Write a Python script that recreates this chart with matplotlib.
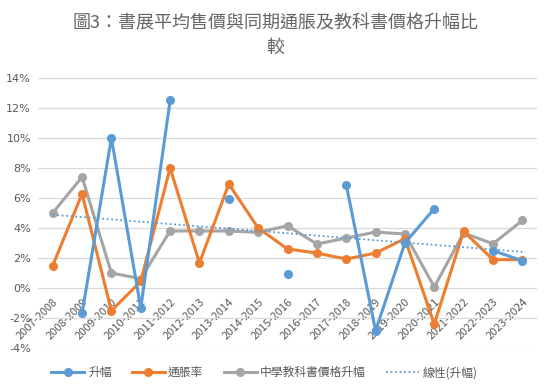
import numpy as np
import matplotlib
matplotlib.use("Agg")
import matplotlib.pyplot as plt
from matplotlib.ticker import FuncFormatter

plt.rcParams['font.family'] = ['Noto Sans CJK TC', 'DejaVu Sans']

# -------------------------------
# Data (percent)
# -------------------------------
years = ["2007-2008", "2008-2009", "2009-2010", "2010-2011", "2011-2012",
         "2012-2013", "2013-2014", "2014-2015", "2015-2016", "2016-2017",
         "2017-2018", "2018-2019", "2019-2020", "2020-2021", "2021-2022",
         "2022-2023", "2023-2024"]

rise = [np.nan, -1.7, 10.0, -1.33, 12.5,
        np.nan, 5.93, np.nan, 0.95, np.nan,
        6.89, -2.85, 3.0, 5.29, np.nan,
        2.49, 1.82]

inflation = [1.49, 6.27, -1.51, 0.44, 8.0,
             1.67, 6.93, 4.0, 2.6, 2.33,
             1.93, 2.33, 3.29, -2.4, 3.78,
             1.89, 1.89]

textbook = [5.0, 7.4, 1.0, 0.62, 3.8,
            3.8, 3.8, 3.71, 4.15, 2.93,
            3.33, 3.73, 3.6, 0.07, 3.67,
            2.95, 4.5]

BLUE = "#5B9BD5"
ORANGE = "#ED7D31"
GRAY = "#A5A5A5"
TEXT = "#595959"

x = np.arange(len(years))
rise_arr = np.array(rise)
ok = ~np.isnan(rise_arr)
coef = np.polyfit(x[ok], rise_arr[ok], 1)
trend = np.polyval(coef, x)

# -------------------------------
# Figure
# -------------------------------
fig = plt.figure(figsize=(5.51, 3.89), dpi=100)
ax = fig.add_axes([0.069, 0.1054, 0.9056, 0.6941])

lw = 2.2
ms = 5.5
ax.plot(x, rise, color=BLUE, lw=lw, marker='o', ms=ms, label="升幅", zorder=4)
ax.plot(x, inflation, color=ORANGE, lw=lw, marker='o', ms=ms, label="通脹率", zorder=3)
ax.plot(x, textbook, color=GRAY, lw=lw, marker='o', ms=ms, label="中學教科書價格升幅", zorder=2)
ax.plot(x, trend, color=BLUE, lw=1.3, ls=(0, (1, 1.5)), label="線性(升幅)", zorder=5)

ax.set_xlim(-0.5, len(years) - 0.5)
ax.set_ylim(-4, 14)
ax.set_yticks(np.arange(-4, 15, 2))
ax.yaxis.set_major_formatter(FuncFormatter(lambda v, p: f"{v:.0f}%"))
ax.grid(axis='y', color="#D9D9D9", lw=0.9)
ax.set_axisbelow(True)

for s in ['top', 'right', 'left']:
    ax.spines[s].set_visible(False)
ax.spines['bottom'].set_position(('data', 0))
ax.spines['bottom'].set_visible(False)

ax.set_xticks(x)
ax.set_xticklabels(years, rotation=45, ha='right', va='top', rotation_mode='anchor')
ax.tick_params(axis='x', length=0, pad=6, labelsize=8, labelcolor=TEXT)
ax.tick_params(axis='y', length=0, pad=5, labelsize=8, labelcolor=TEXT)
for lab in ax.get_yticklabels():
    lab.set_family(['DejaVu Sans'])

fig.text(0.5, 0.908, "圖3：書展平均售價與同期通脹及教科書價格升幅比\n較",
         ha='center', va='center', fontsize=13, color="#666666", linespacing=1.5)

leg = fig.legend(loc='center', bbox_to_anchor=(0.48, 0.042), ncol=4, frameon=False,
                 fontsize=8.5, handlelength=2.8, columnspacing=1.7, handletextpad=0.3)
for t in leg.get_texts():
    t.set_color(TEXT)

fig.savefig("out.png", dpi=100)
